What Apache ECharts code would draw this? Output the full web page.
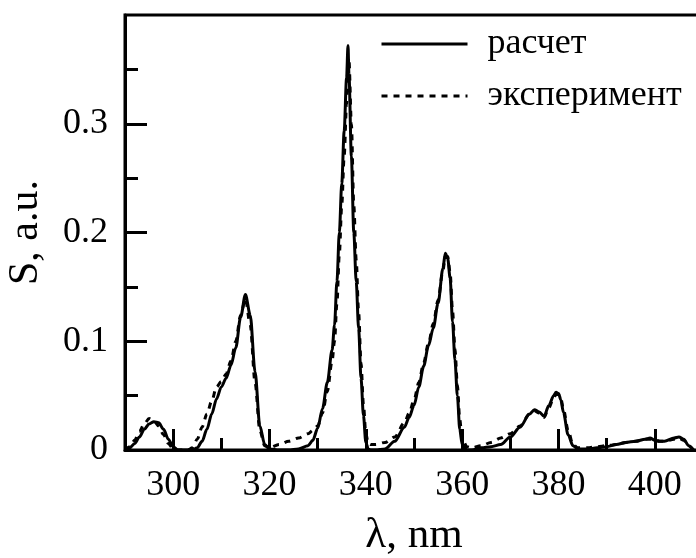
<!DOCTYPE html>
<html>
<head>
<meta charset="utf-8">
<script src="https://cdn.jsdelivr.net/npm/echarts@6/dist/echarts.min.js"></script>
<style>
  html, body { margin: 0; padding: 0; background: #fff; }
  #chart { width: 696px; height: 558px; }
</style>
</head>
<body>
<div id="chart"></div>
<script>
// Wavelength grid, nm
const wavelength = [
  290, 291, 292, 293, 294, 295, 296, 297, 298, 299,
  300, 301, 302, 303, 304, 305, 306, 307, 308, 309,
  310, 311, 312, 313, 314, 315, 316, 317, 318, 319,
  320, 322, 324, 326, 328, 329, 330, 331, 332, 333,
  333.5, 334, 334.5, 335, 335.5, 336, 336.3, 336.5, 337, 337.5,
  338, 338.5, 339, 339.5, 340, 340.5, 341, 342, 344, 346,
  348, 349, 350, 351, 352, 353, 354, 355, 356, 356.5,
  357, 357.5, 358, 358.5, 359, 359.5, 360, 361, 362, 364,
  366, 368, 370, 372, 374, 375, 376, 377, 378, 379,
  379.5, 380, 380.5, 381, 382, 383, 384, 386, 388, 390,
  392, 394, 396, 398, 399, 400, 401, 402, 404, 405,
  406, 407, 408
];

// Calculated spectrum (solid)
const calcValues = [
  0.000, 0.002, 0.006, 0.012, 0.019, 0.024, 0.026, 0.025, 0.019, 0.010,
  0.003, 0.000, 0.000, 0.000, 0.000, 0.002, 0.008, 0.019, 0.033, 0.047,
  0.058, 0.066, 0.078, 0.094, 0.122, 0.143, 0.124, 0.072, 0.022, 0.005,
  0.001, 0.000, 0.000, 0.001, 0.004, 0.009, 0.020, 0.038, 0.062, 0.092,
  0.115, 0.155, 0.200, 0.245, 0.293, 0.342, 0.372, 0.345, 0.270, 0.200,
  0.155, 0.112, 0.066, 0.032, 0.007, 0.001, 0.000, 0.000, 0.001, 0.008,
  0.021, 0.030, 0.041, 0.058, 0.077, 0.096, 0.112, 0.135, 0.167, 0.181,
  0.176, 0.158, 0.118, 0.083, 0.050, 0.019, 0.005, 0.000, 0.000, 0.002,
  0.003, 0.005, 0.012, 0.021, 0.033, 0.037, 0.035, 0.031, 0.041, 0.050,
  0.053, 0.052, 0.046, 0.035, 0.014, 0.004, 0.001, 0.001, 0.002, 0.003,
  0.005, 0.007, 0.008, 0.010, 0.011, 0.009, 0.008, 0.008, 0.011, 0.012,
  0.010, 0.004, 0.000
];

// Measured spectrum (dashed)
const expValues = [
  0.000, 0.003, 0.009, 0.017, 0.024, 0.029, 0.027, 0.022, 0.014, 0.006,
  0.001, 0.000, 0.000, 0.000, 0.002, 0.010, 0.021, 0.033, 0.045, 0.058,
  0.063, 0.070, 0.082, 0.100, 0.124, 0.139, 0.115, 0.062, 0.018, 0.004,
  0.002, 0.005, 0.008, 0.011, 0.015, 0.018, 0.022, 0.034, 0.054, 0.082,
  0.100, 0.135, 0.180, 0.225, 0.270, 0.318, 0.350, 0.358, 0.300, 0.225,
  0.175, 0.127, 0.080, 0.042, 0.015, 0.006, 0.005, 0.005, 0.007, 0.012,
  0.025, 0.034, 0.046, 0.062, 0.080, 0.098, 0.116, 0.138, 0.165, 0.178,
  0.178, 0.163, 0.128, 0.093, 0.060, 0.028, 0.010, 0.003, 0.002, 0.004,
  0.007, 0.011, 0.015, 0.022, 0.033, 0.036, 0.034, 0.030, 0.039, 0.048,
  0.051, 0.051, 0.047, 0.038, 0.018, 0.005, 0.002, 0.002, 0.003, 0.004,
  0.005, 0.007, 0.008, 0.010, 0.010, 0.009, 0.008, 0.008, 0.010, 0.011,
  0.009, 0.004, 0.000
];

const seriesNames = ['расчет', 'эксперимент'];
const xMajorTicks = [300, 320, 340, 360, 380, 400];
const xMinorTicks = [310, 330, 350, 370, 390];
const yMajorTicks = [0, 0.1, 0.2, 0.3];
const yMinorTicks = [0.05, 0.15, 0.25, 0.35];
const xName = 'λ, nm';
const yName = 'S, a.u.';

const FONT = "'Liberation Serif', 'Times New Roman', serif";
const INK = '#000';
const DASH = [6, 6];

function pairs(xs, ys) {
  return xs.map((x, i) => [x, ys[i]]);
}

const tickStyle = { color: INK, width: 3 };

const chart = echarts.init(document.getElementById('chart'), null, { renderer: 'canvas' });

chart.setOption({
  animation: false,
  backgroundColor: '#fff',
  textStyle: { fontFamily: FONT, color: INK },
  // plot box runs past the right edge of the canvas (x max = 410)
  grid: {
    left: 125, top: 15, width: 578, height: 435,
    outerBoundsMode: 'none',
    containLabel: false,
    show: true, borderColor: INK, borderWidth: 3, backgroundColor: 'transparent'
  },
  legend: {
    orient: 'vertical',
    left: 380,
    top: 26,
    padding: 0,
    itemWidth: 86,
    itemHeight: 14,
    itemGap: 16,
    data: [
      { name: seriesNames[0], lineStyle: { width: 3, type: 'solid' } },
      { name: seriesNames[1], lineStyle: { width: 3, type: DASH } }
    ],
    itemStyle: { color: 'rgba(0,0,0,0)', borderWidth: 0, opacity: 0 },
    textStyle: {
      fontFamily: FONT, fontSize: 36, color: INK,
      lineHeight: 36, padding: [0, 0, 0, 15]
    }
  },
  xAxis: [
    {
      type: 'value', min: 290, max: 410, position: 'bottom',
      name: xName, nameLocation: 'middle', nameGap: 64,
      nameTextStyle: { fontFamily: FONT, fontSize: 43, color: INK },
      axisLine: { show: true, lineStyle: { color: INK, width: 3 } },
      axisTick: {
        show: true, inside: true, length: 21, lineStyle: tickStyle,
        customValues: xMajorTicks
      },
      axisLabel: {
        fontFamily: FONT, fontSize: 36, color: INK, margin: 18,
        customValues: xMajorTicks
      },
      splitLine: { show: false }
    },
    {
      // minor ticks between labelled wavelengths
      type: 'value', min: 290, max: 410, position: 'bottom',
      axisLine: { show: false },
      axisTick: {
        show: true, inside: true, length: 12, lineStyle: tickStyle,
        customValues: xMinorTicks
      },
      axisLabel: { show: false },
      splitLine: { show: false }
    }
  ],
  yAxis: [
    {
      type: 'value', min: 0, max: 0.4, position: 'left',
      name: yName, nameLocation: 'middle', nameGap: 78,
      nameTextStyle: { fontFamily: FONT, fontSize: 42, color: INK },
      axisLine: { show: true, lineStyle: { color: INK, width: 3 } },
      axisTick: {
        show: true, inside: true, length: 22, lineStyle: tickStyle,
        customValues: yMajorTicks
      },
      axisLabel: {
        fontFamily: FONT, fontSize: 36, color: INK, margin: 17,
        customValues: yMajorTicks,
        formatter: v => (v === 0 ? '0' : v.toFixed(1))
      },
      splitLine: { show: false }
    },
    {
      // minor ticks between labelled intensities
      type: 'value', min: 0, max: 0.4, position: 'left',
      axisLine: { show: false },
      axisTick: {
        show: true, inside: true, length: 13, lineStyle: tickStyle,
        customValues: yMinorTicks
      },
      axisLabel: { show: false },
      splitLine: { show: false }
    }
  ],
  series: [
    {
      name: seriesNames[0], type: 'line', xAxisIndex: 0, yAxisIndex: 0,
      data: pairs(wavelength, calcValues),
      symbol: 'none', smooth: 0.3, smoothMonotone: 'x',
      lineStyle: { color: INK, width: 3, type: 'solid' },
      itemStyle: { color: INK },
      z: 3
    },
    {
      name: seriesNames[1], type: 'line', xAxisIndex: 0, yAxisIndex: 0,
      data: pairs(wavelength, expValues),
      symbol: 'none', smooth: 0.3, smoothMonotone: 'x',
      lineStyle: { color: INK, width: 3, type: DASH },
      itemStyle: { color: INK },
      z: 2
    }
  ]
});
</script>
</body>
</html>
